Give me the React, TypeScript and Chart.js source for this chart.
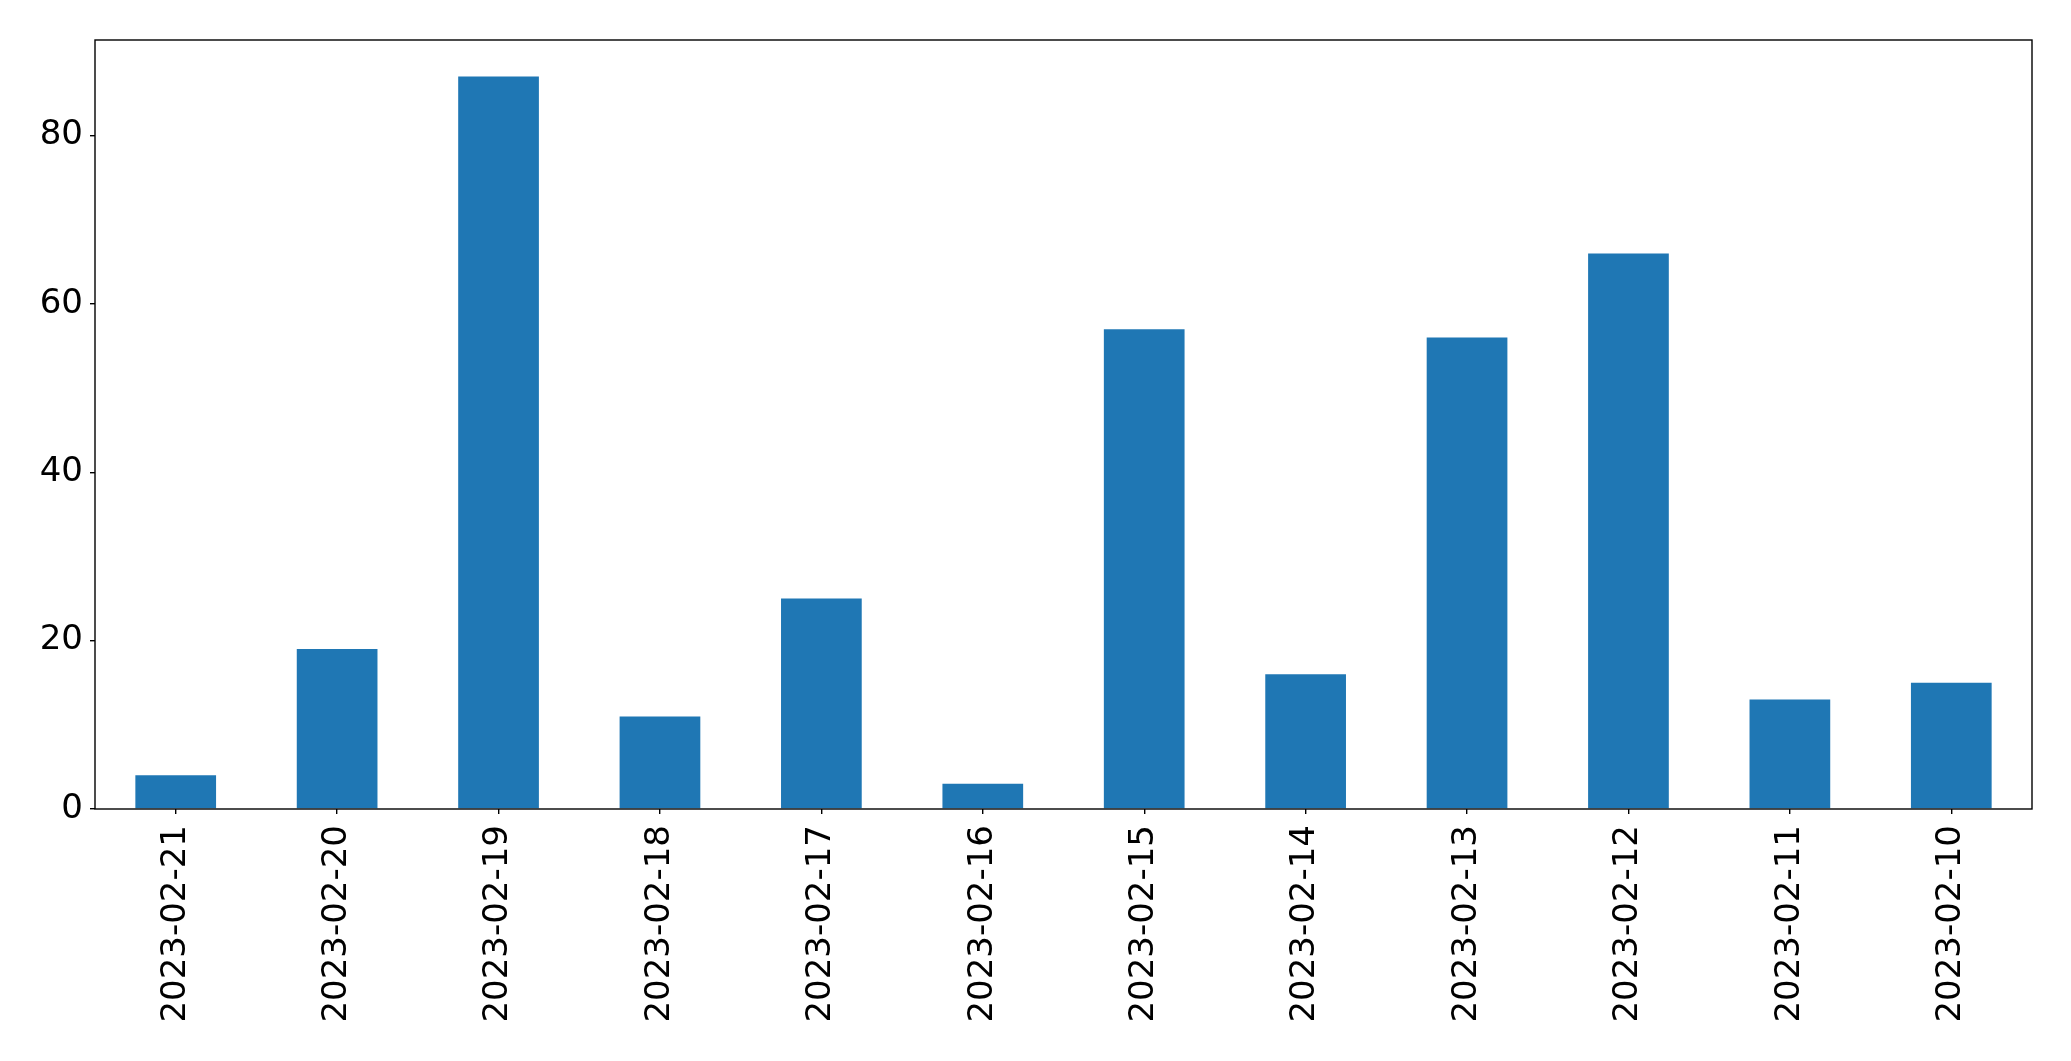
import React, { useEffect, useRef } from "react";
import { Chart, registerables } from "chart.js";

Chart.register(...registerables);

const categories = [
  "2023-02-21", "2023-02-20", "2023-02-19", "2023-02-18", "2023-02-17", "2023-02-16",
  "2023-02-15", "2023-02-14", "2023-02-13", "2023-02-12", "2023-02-11", "2023-02-10",
];
const values = [4, 19, 87, 11, 25, 3, 57, 16, 56, 66, 13, 15];
const yTicks = [0, 20, 40, 60, 80];

const W = 2071;
const H = 1061;

const frame = {
  id: "frame",
  afterDraw(chart: any) {
    const { ctx, chartArea: a } = chart;
    ctx.save();
    ctx.strokeStyle = "#000";
    ctx.lineWidth = 1.4;
    ctx.strokeRect(a.left, a.top, a.right - a.left, a.bottom - a.top);
    ctx.restore();
  },
};

export default function App() {
  const ref = useRef<HTMLCanvasElement | null>(null);
  useEffect(() => {
    if (!ref.current) return;
    const font = { family: "'DejaVu Sans'", size: 34 };
    const chart = new Chart(ref.current, {
      type: "bar",
      data: {
        labels: categories,
        datasets: [
          {
            data: values,
            backgroundColor: "#1f77b4",
            borderWidth: 0,
            barPercentage: 0.5,
            categoryPercentage: 1,
          },
        ],
      },
      options: {
        animation: false,
        responsive: false,
        devicePixelRatio: 1,
        layout: { padding: { left: 0, top: 40, right: 39, bottom: 0 } },
        plugins: { legend: { display: false }, tooltip: { enabled: false } },
        scales: {
          x: {
            offset: true,
            grid: { offset: false, drawOnChartArea: false, tickLength: 5, color: "#000", lineWidth: 1.4 },
            border: { display: false },
            ticks: { font, color: "#000", minRotation: 90, maxRotation: 90, padding: 11, autoSkip: false },
            afterFit(s: any) { s.height = H - 809; },
          },
          y: {
            min: 0,
            max: 91.35,
            grid: { drawOnChartArea: false, tickLength: 5, color: "#000", lineWidth: 1.4 },
            border: { display: false },
            ticks: {
              font,
              color: "#000",
              padding: 7,
              stepSize: 20,
              includeBounds: false,
            },
            afterBuildTicks(s: any) { s.ticks = yTicks.map((v) => ({ value: v })); },
            afterFit(s: any) { s.width = 95; },
          },
        },
      },
      plugins: [frame],
    });
    return () => chart.destroy();
  }, []);
  return (
    <div style={{ position: "fixed", left: 0, top: 0, width: W, height: H, background: "#fff" }}>
      <canvas ref={ref} width={W} height={H} style={{ width: W, height: H }} />
    </div>
  );
}
